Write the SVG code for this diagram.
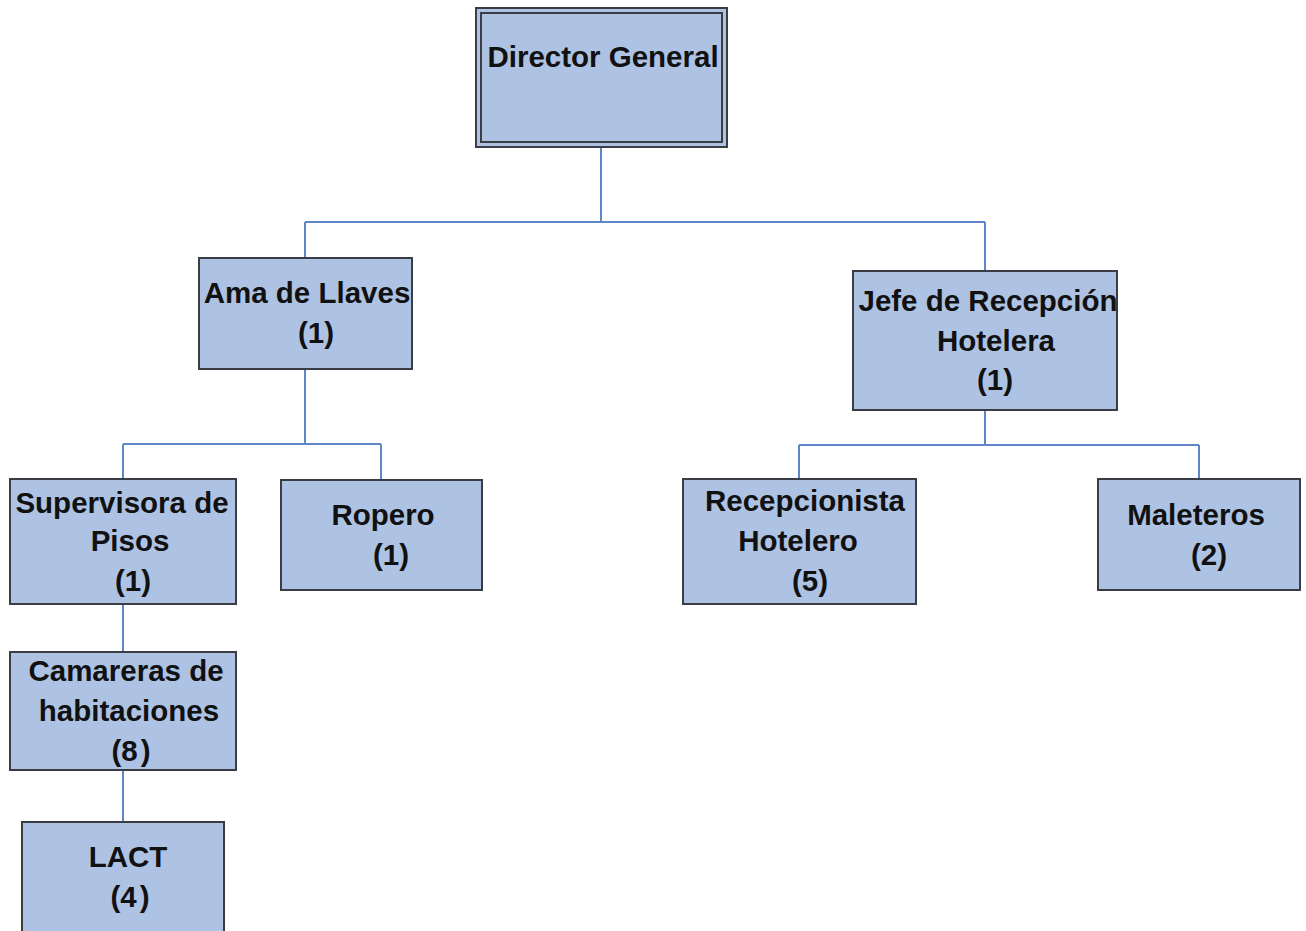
<svg xmlns="http://www.w3.org/2000/svg" width="1306" height="931" viewBox="0 0 1306 931">
  <style>
    .box { fill: #aec3e4; stroke: #3a3d44; stroke-width: 2; }
    .inner { fill: none; stroke: #3a3d44; stroke-width: 2; }
    .lbl { font-family: "Liberation Sans", Arial, sans-serif; font-weight: bold; font-size: 29.5px; fill: #111; text-anchor: middle; }
    .tight { word-spacing: -5px; }
    .wire { fill: none; stroke: #5f86c6; stroke-width: 2; }
  </style>
  <rect width="1306" height="931" fill="#ffffff"/>

  <g id="connectors">
    <path class="wire" d="M601 147 V222 M305 222 H985 M305 222 V258 M985 222 V271"/>
    <path class="wire" d="M305 369 V444 M123 444 H381 M123 444 V479 M381 444 V480"/>
    <path class="wire" d="M985 410 V445 M799 445 H1199 M799 445 V479 M1199 445 V479"/>
    <path class="wire" d="M123 604 V652 M123 770 V822"/>
  </g>

  <g id="director-general">
    <rect class="box" x="476" y="8" width="251" height="139"/>
    <rect class="inner" x="481" y="13" width="241" height="129"/>
    <text class="lbl" x="603" y="67">Director General</text>
  </g>

  <g id="ama-de-llaves">
    <rect class="box" x="199" y="258" width="213" height="111"/>
    <text class="lbl" x="307" y="303">Ama de Llaves</text>
    <text class="lbl" x="316" y="343">(1)</text>
  </g>

  <g id="jefe-recepcion">
    <rect class="box" x="853" y="271" width="264" height="139"/>
    <text class="lbl" x="988" y="311">Jefe de Recepción</text>
    <text class="lbl" x="996" y="351">Hotelera</text>
    <text class="lbl" x="995" y="390">(1)</text>
  </g>

  <g id="supervisora-pisos">
    <rect class="box" x="10" y="479" width="226" height="125"/>
    <text class="lbl" x="122" y="513">Supervisora de</text>
    <text class="lbl" x="130" y="551">Pisos</text>
    <text class="lbl" x="133" y="591">(1)</text>
  </g>

  <g id="ropero">
    <rect class="box" x="281" y="480" width="201" height="110"/>
    <text class="lbl" x="383" y="525">Ropero</text>
    <text class="lbl" x="391" y="565">(1)</text>
  </g>

  <g id="recepcionista">
    <rect class="box" x="683" y="479" width="233" height="125"/>
    <text class="lbl" x="805" y="511">Recepcionista</text>
    <text class="lbl" x="798" y="551">Hotelero</text>
    <text class="lbl" x="810" y="591">(5)</text>
  </g>

  <g id="maleteros">
    <rect class="box" x="1098" y="479" width="202" height="111"/>
    <text class="lbl" x="1196" y="525">Maleteros</text>
    <text class="lbl" x="1209" y="565">(2)</text>
  </g>

  <g id="camareras">
    <rect class="box" x="10" y="652" width="226" height="118"/>
    <text class="lbl" x="126" y="681">Camareras de</text>
    <text class="lbl" x="129" y="721">habitaciones</text>
    <text class="lbl tight" x="131" y="761">(8 )</text>
  </g>

  <g id="lact">
    <rect class="box" x="22" y="822" width="202" height="120"/>
    <text class="lbl" x="128" y="867">LACT</text>
    <text class="lbl tight" x="130" y="907">(4 )</text>
  </g>
</svg>
